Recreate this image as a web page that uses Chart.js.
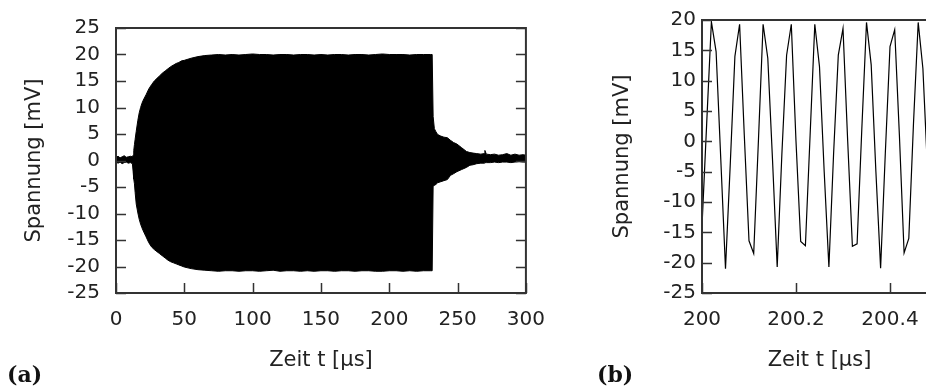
<!DOCTYPE html>
<html>
<head>
<meta charset="utf-8">
<script src="https://cdn.jsdelivr.net/npm/chart.js@4/dist/chart.umd.min.js"></script>
<style>
  html, body { margin: 0; padding: 0; background: #fff; overflow: hidden; }
  body { width: 926px; height: 390px; position: relative; }
  canvas { position: absolute; top: 0; }
  #chartA { left: 0; }
  #chartB { left: 560px; }
  .tag { position: absolute; font: bold 22px "DejaVu Serif", serif; line-height: 1; color: #111; }
</style>
</head>
<body>
<canvas id="chartA" width="560" height="390"></canvas>
<canvas id="chartB" width="400" height="390"></canvas>
<span class="tag" style="left:7px; top:363px">(a)</span>
<span class="tag" style="left:597px; top:363px">(b)</span>
<script>
// (a) envelope of the burst: time [µs], upper and lower edge [mV]
const timeA = [0, 1.5, 3, 4.5, 6, 7.5, 9, 10.5, 12, 12.5, 13, 13.5, 14, 14.8, 16, 17, 18, 19, 20,
  22, 24, 26, 28, 30, 32, 34, 36, 38, 40, 42, 44, 46, 48, 50, 55, 60, 65,
  70, 75, 80, 85, 90, 95, 100, 105, 110, 115, 120, 125, 130, 135, 140, 145, 150, 155,
  160, 165, 170, 175, 180, 185, 190, 195, 200, 205, 210, 215, 220, 225, 230, 231.4,
  232.1, 233, 234.2, 235.4, 237.7, 240, 242.5, 244.8, 247, 249.5, 253, 256.5, 259, 261.3,
  264, 267, 269.5, 270, 271, 274, 277, 280, 283, 286, 289, 292, 295, 298, 300];
const upperA = [0.6, 0.8, 0.5, 0.7, 0.9, 0.6, 0.7, 0.8, 0.7, 1.0, 1.9, 3.0, 4.0, 5.5, 7.6, 9.0, 10.0, 10.8, 11.4,
  12.4, 13.5, 14.3, 15.0, 15.5, 16.0, 16.5, 16.9, 17.3, 17.7, 18.0, 18.3, 18.5, 18.8, 18.9, 19.3, 19.6, 19.8,
  19.9, 20.0, 19.9, 20.0, 19.9, 20.0, 20.1, 20.0, 20.0, 19.9, 20.0, 20.0, 19.9, 20.0, 20.0, 19.9, 20.0, 19.9,
  20.0, 20.0, 19.9, 20.0, 20.0, 19.9, 20.0, 20.1, 20.0, 20.0, 20.0, 19.9, 20.0, 20.0, 20.0, 20.0,
  8.3, 6.0, 5.4, 4.9, 4.6, 4.4, 4.3, 3.8, 3.4, 3.1, 2.4, 1.7, 1.5, 1.4,
  1.3, 1.2, 1.3, 1.9, 1.2, 1.1, 1.2, 1.0, 1.1, 1.3, 1.0, 1.2, 1.0, 1.1, 1.0];
const lowerA = [-0.3, -0.5, -0.3, -0.6, -0.4, -0.3, -0.5, -0.4, -0.6, -2.0, -3.5, -4.4, -6.0, -8.2, -9.9, -11.1, -12.0, -12.7, -13.3,
  -14.4, -15.5, -16.3, -16.8, -17.2, -17.6, -18.0, -18.4, -18.8, -19.1, -19.3, -19.5, -19.7, -19.9, -20.1, -20.4, -20.6, -20.7,
  -20.8, -20.9, -20.8, -20.8, -20.9, -20.8, -20.8, -20.9, -20.8, -20.7, -20.9, -20.8, -20.8, -20.9, -20.8, -20.9, -20.8, -20.8,
  -20.9, -20.8, -20.8, -20.9, -20.8, -20.8, -20.9, -20.9, -20.8, -20.8, -20.9, -20.8, -20.9, -20.8, -20.8, -20.8,
  -4.8, -4.7, -4.5, -4.2, -4.0, -3.8, -3.6, -2.8, -2.5, -2.1, -1.7, -1.3, -0.9, -0.8,
  -0.6, -0.5, -0.5, -0.4, -0.4, -0.4, -0.3, -0.4, -0.3, -0.3, -0.4, -0.3, -0.2, -0.3, -0.3];

// (b) zoom into the steady part, sample by sample
const timeB = [200.00, 200.01, 200.02, 200.03, 200.04, 200.05, 200.06, 200.07, 200.08, 200.09,
  200.10, 200.11, 200.12, 200.13, 200.14, 200.15, 200.16, 200.17, 200.18, 200.19,
  200.20, 200.21, 200.22, 200.23, 200.24, 200.25, 200.26, 200.27, 200.28, 200.29,
  200.30, 200.31, 200.32, 200.33, 200.34, 200.35, 200.36, 200.37, 200.38, 200.39,
  200.40, 200.41, 200.42, 200.43, 200.44, 200.45, 200.46, 200.47, 200.48, 200.49, 200.50];
const voltB = [-14, 3, 19.7, 14.8, -3, -21, -4, 14, 19.3, 1,
  -16.4, -18.5, 0, 19.3, 13.7, -3, -20.7, -2, 14.2, 19.3,
  0, -16.5, -17.2, 1, 19.3, 12.3, -5, -20.7, -2, 14.2,
  18.6, 0, -17.3, -16.9, 2, 19.6, 12.6, -5, -20.9, -2,
  15.6, 18.4, 1, -18.4, -16, 3, 19.6, 12, -5, -20.5, -3];

const xTitle = "Zeit t [µs]";
const yTitle = "Spannung [mV]";

Chart.defaults.font.family = "'DejaVu Sans', sans-serif";
Chart.defaults.color = "#222";

// gnuplot style box with inward ticks (y mirrored on the right)
const frame = {
  id: "frame",
  afterDraw(chart) {
    const { ctx, chartArea: a, scales } = chart;
    ctx.save();
    ctx.strokeStyle = "#333";
    ctx.lineWidth = 1.5;
    ctx.beginPath();
    scales.y.ticks.forEach((t) => {
      const py = Math.round(scales.y.getPixelForValue(t.value)) + 0.5;
      ctx.moveTo(a.left, py);
      ctx.lineTo(a.left + 10, py);
      ctx.moveTo(a.right, py);
      ctx.lineTo(a.right - 10, py);
    });
    scales.x.ticks.forEach((t) => {
      const px = Math.round(scales.x.getPixelForValue(t.value)) + 0.5;
      ctx.moveTo(px, a.bottom);
      ctx.lineTo(px, a.bottom - 10);
    });
    ctx.stroke();
    ctx.lineWidth = 2;
    ctx.strokeRect(a.left, a.top, a.right - a.left, a.bottom - a.top);
    ctx.restore();
  },
};

const axes = (xmin, xmax, xstep, ymin, ymax, yAxisW, tickPad, titlePad, fmt) => ({
  x: {
    type: "linear",
    min: xmin,
    max: xmax,
    grid: { display: false, drawTicks: false },
    border: { display: false },
    ticks: { stepSize: xstep, padding: 15, autoSkip: false, maxRotation: 0, includeBounds: false, font: { size: 20 }, callback: fmt },
    title: { display: true, text: xTitle, font: { size: 21 }, padding: { top: 0, bottom: 17 } },
    afterFit: (s) => { s.height = 97; },
  },
  y: {
    min: ymin,
    max: ymax,
    grid: { display: false, drawTicks: false },
    border: { display: false },
    ticks: { stepSize: 5, padding: tickPad, autoSkip: false, font: { size: 20 } },
    title: { display: true, text: yTitle, font: { size: 21 }, padding: { top: titlePad, bottom: 0 } },
    afterFit: (s) => { s.width = yAxisW; },
  },
});

const renderCharts = () => {
  new Chart(document.getElementById("chartA"), {
    type: "line",
    data: {
      datasets: [
        {
          data: timeA.map((t, i) => ({ x: t, y: upperA[i] })),
          borderColor: "#000",
          backgroundColor: "#000",
          borderWidth: 1,
          fill: "+1",
        },
        {
          data: timeA.map((t, i) => ({ x: t, y: lowerA[i] })),
          borderColor: "#000",
          borderWidth: 1,
          fill: false,
        },
      ],
    },
    options: {
      responsive: false,
      animation: false,
      devicePixelRatio: 1,
      layout: { padding: { top: 20, right: 18, left: 0, bottom: 0 } },
      elements: { point: { radius: 0 } },
      plugins: { legend: { display: false }, tooltip: { enabled: false } },
      scales: axes(0, 300, 50, -25, 25, 116, 16, 22),
    },
    plugins: [frame],
  });

  new Chart(document.getElementById("chartB"), {
    type: "line",
    data: {
      datasets: [
        {
          data: timeB.map((t, i) => ({ x: t, y: voltB[i] })),
          borderColor: "#000",
          borderWidth: 1.2,
          fill: false,
        },
      ],
    },
    options: {
      responsive: false,
      animation: false,
      devicePixelRatio: 1,
      layout: { padding: { top: 20, right: 23, left: 0, bottom: 0 } },
      elements: { point: { radius: 0 } },
      plugins: { legend: { display: false }, tooltip: { enabled: false } },
      scales: axes(200, 200.5, 0.2, -25, 20, 142, 6, 50, (v) => String(Number(v.toFixed(1)))),
    },
    plugins: [frame],
  });
};

renderCharts();
</script>
</body>
</html>
